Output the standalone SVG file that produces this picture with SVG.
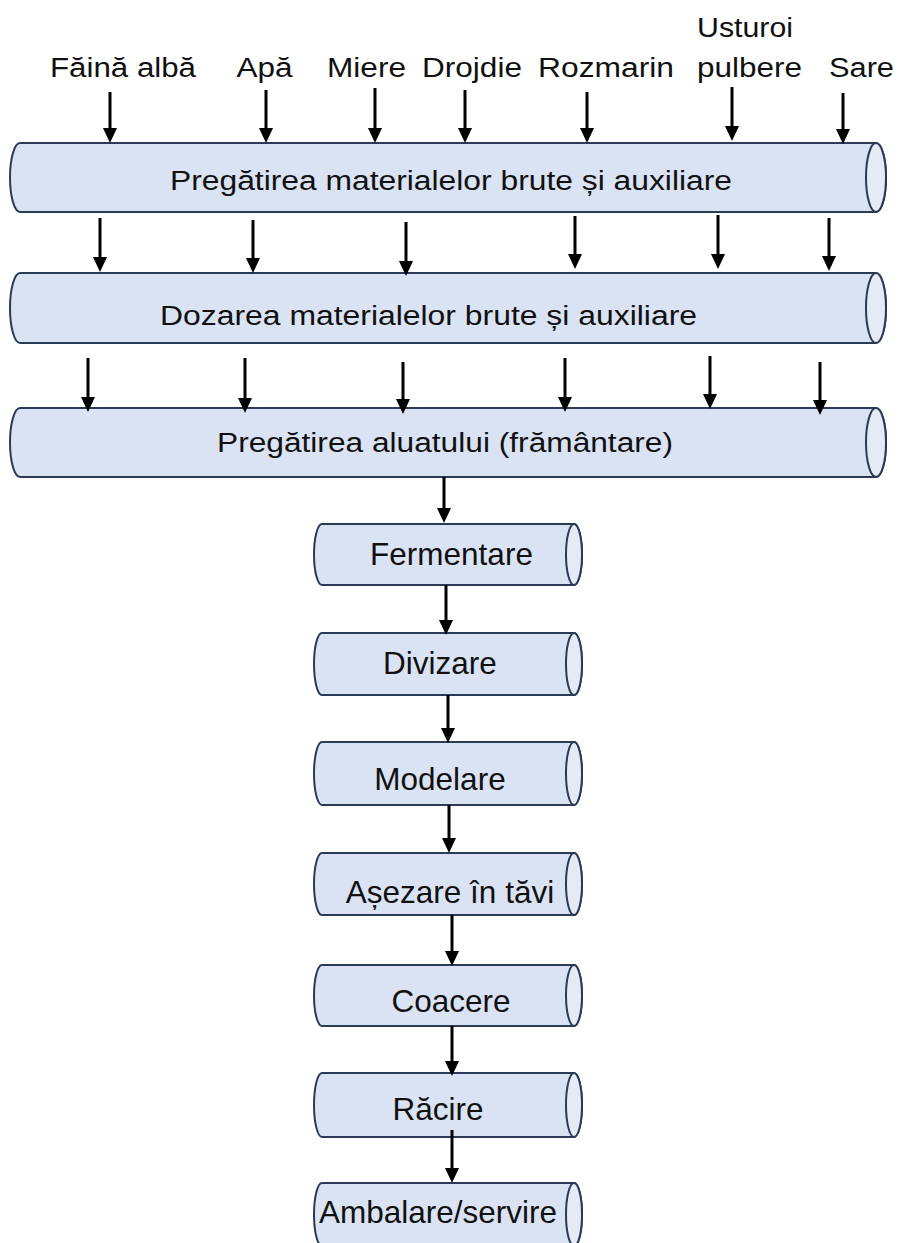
<svg xmlns="http://www.w3.org/2000/svg" width="899" height="1243" viewBox="0 0 899 1243">
<defs>
<style>
.body{fill:#dae3f3;stroke:#2b3a55;stroke-width:2}
.face{fill:#e4eaf6;stroke:#2b3a55;stroke-width:2}
.lbl{font-family:"Liberation Sans",Arial,sans-serif;font-size:27px;fill:#111;text-anchor:middle}
.big{font-family:"Liberation Sans",Arial,sans-serif;font-size:27px;fill:#111;text-anchor:middle}
.sm{font-family:"Liberation Sans",Arial,sans-serif;font-size:31.5px;fill:#111;text-anchor:middle}
.arr{stroke:#000;stroke-width:3;fill:none;marker-end:url(#ah)}
</style>
<marker id="ah" viewBox="0 0 15 14" refX="3" refY="7" markerWidth="15" markerHeight="14" markerUnits="userSpaceOnUse" orient="auto">
<path d="M0,0 L15,7 L0,14 Z" fill="#000"/>
</marker>
</defs>
<rect width="899" height="1243" fill="#fff"/>

<g id="inputs">
<text class="lbl" x="123" y="77" textLength="146" lengthAdjust="spacingAndGlyphs">Făină albă</text>
<text class="lbl" x="264.5" y="77" textLength="56" lengthAdjust="spacingAndGlyphs">Apă</text>
<text class="lbl" x="366.5" y="77" textLength="79" lengthAdjust="spacingAndGlyphs">Miere</text>
<text class="lbl" x="472" y="77" textLength="100" lengthAdjust="spacingAndGlyphs">Drojdie</text>
<text class="lbl" x="606" y="77" textLength="136" lengthAdjust="spacingAndGlyphs">Rozmarin</text>
<text class="lbl" x="745" y="37" textLength="96" lengthAdjust="spacingAndGlyphs">Usturoi</text>
<text class="lbl" x="749.5" y="77" textLength="105" lengthAdjust="spacingAndGlyphs">pulbere</text>
<text class="lbl" x="861.5" y="77" textLength="65" lengthAdjust="spacingAndGlyphs">Sare</text>
</g>

<g id="n1">
<path class="body" d="M20,143 H876 A10,34.5 0 0 1 876,212 H20 A10,34.5 0 0 1 20,143 Z"/>
<ellipse class="face" cx="876" cy="177.5" rx="10" ry="34.5"/>
<text class="big" x="451" y="190" textLength="562" lengthAdjust="spacingAndGlyphs">Pregătirea materialelor brute și auxiliare</text>
</g>
<g id="n2">
<path class="body" d="M20,273 H876 A10,35 0 0 1 876,343 H20 A10,35 0 0 1 20,273 Z"/>
<ellipse class="face" cx="876" cy="308" rx="10" ry="35"/>
<text class="big" x="428.5" y="325" textLength="537" lengthAdjust="spacingAndGlyphs">Dozarea materialelor brute și auxiliare</text>
</g>
<g id="n3">
<path class="body" d="M20,408 H876 A10,34.5 0 0 1 876,477 H20 A10,34.5 0 0 1 20,408 Z"/>
<ellipse class="face" cx="876" cy="442.5" rx="10" ry="34.5"/>
<text class="big" x="445" y="452" textLength="456" lengthAdjust="spacingAndGlyphs">Pregătirea aluatului (frământare)</text>
</g>

<g id="n4">
<path class="body" d="M322,524 H574 A8,30.5 0 0 1 574,585 H322 A8,30.5 0 0 1 322,524 Z"/>
<ellipse class="face" cx="574" cy="554.5" rx="8" ry="30.5"/>
<text class="sm" x="451.5" y="565">Fermentare</text>
</g>
<g id="n5">
<path class="body" d="M322,633 H574 A8,31 0 0 1 574,695 H322 A8,31 0 0 1 322,633 Z"/>
<ellipse class="face" cx="574" cy="664" rx="8" ry="31"/>
<text class="sm" x="440" y="674">Divizare</text>
</g>
<g id="n6">
<path class="body" d="M322,742 H574 A8,31.5 0 0 1 574,805 H322 A8,31.5 0 0 1 322,742 Z"/>
<ellipse class="face" cx="574" cy="773.5" rx="8" ry="31.5"/>
<text class="sm" x="440" y="790">Modelare</text>
</g>
<g id="n7">
<path class="body" d="M322,853 H574 A8,31 0 0 1 574,915 H322 A8,31 0 0 1 322,853 Z"/>
<ellipse class="face" cx="574" cy="884" rx="8" ry="31"/>
<text class="sm" x="450" y="903">Așezare în tăvi</text>
</g>
<g id="n8">
<path class="body" d="M322,965 H574 A8,30.5 0 0 1 574,1026 H322 A8,30.5 0 0 1 322,965 Z"/>
<ellipse class="face" cx="574" cy="995.5" rx="8" ry="30.5"/>
<text class="sm" x="451" y="1012">Coacere</text>
</g>
<g id="n9">
<path class="body" d="M322,1073 H574 A8,32 0 0 1 574,1137 H322 A8,32 0 0 1 322,1073 Z"/>
<ellipse class="face" cx="574" cy="1105" rx="8" ry="32"/>
<text class="sm" x="438" y="1120">Răcire</text>
</g>
<g id="n10">
<path class="body" d="M322,1183 H574 A8,31.5 0 0 1 574,1246 H322 A8,31.5 0 0 1 322,1183 Z"/>
<ellipse class="face" cx="574" cy="1214.5" rx="8" ry="31.5"/>
<text class="sm" x="438" y="1223">Ambalare/servire</text>
</g>

<g id="connectors">
<line class="arr" x1="110" y1="92" x2="110" y2="131"/>
<line class="arr" x1="266" y1="90" x2="266" y2="131"/>
<line class="arr" x1="375" y1="88" x2="375" y2="131"/>
<line class="arr" x1="465" y1="90" x2="465" y2="131"/>
<line class="arr" x1="587" y1="92" x2="587" y2="131"/>
<line class="arr" x1="732" y1="87" x2="732" y2="129"/>
<line class="arr" x1="843" y1="93" x2="843" y2="132"/>

<line class="arr" x1="100" y1="218" x2="100" y2="260"/>
<line class="arr" x1="253" y1="220" x2="253" y2="261"/>
<line class="arr" x1="406" y1="222" x2="406" y2="264"/>
<line class="arr" x1="575" y1="216" x2="575" y2="257"/>
<line class="arr" x1="718" y1="215" x2="718" y2="257"/>
<line class="arr" x1="829" y1="218" x2="829" y2="259"/>

<line class="arr" x1="88" y1="358" x2="88" y2="400"/>
<line class="arr" x1="245" y1="358" x2="245" y2="401"/>
<line class="arr" x1="403" y1="362" x2="403" y2="402"/>
<line class="arr" x1="565" y1="358" x2="565" y2="400"/>
<line class="arr" x1="710" y1="356" x2="710" y2="397"/>
<line class="arr" x1="820" y1="362" x2="820" y2="403"/>

<line class="arr" x1="444" y1="477" x2="444" y2="511"/>
<line class="arr" x1="446" y1="585" x2="446" y2="623"/>
<line class="arr" x1="448" y1="695" x2="448" y2="731"/>
<line class="arr" x1="449" y1="805" x2="449" y2="841"/>
<line class="arr" x1="452" y1="915" x2="452" y2="954"/>
<line class="arr" x1="452" y1="1026" x2="452" y2="1064"/>
<line class="arr" x1="452" y1="1130" x2="452" y2="1171"/>
</g>
</svg>
